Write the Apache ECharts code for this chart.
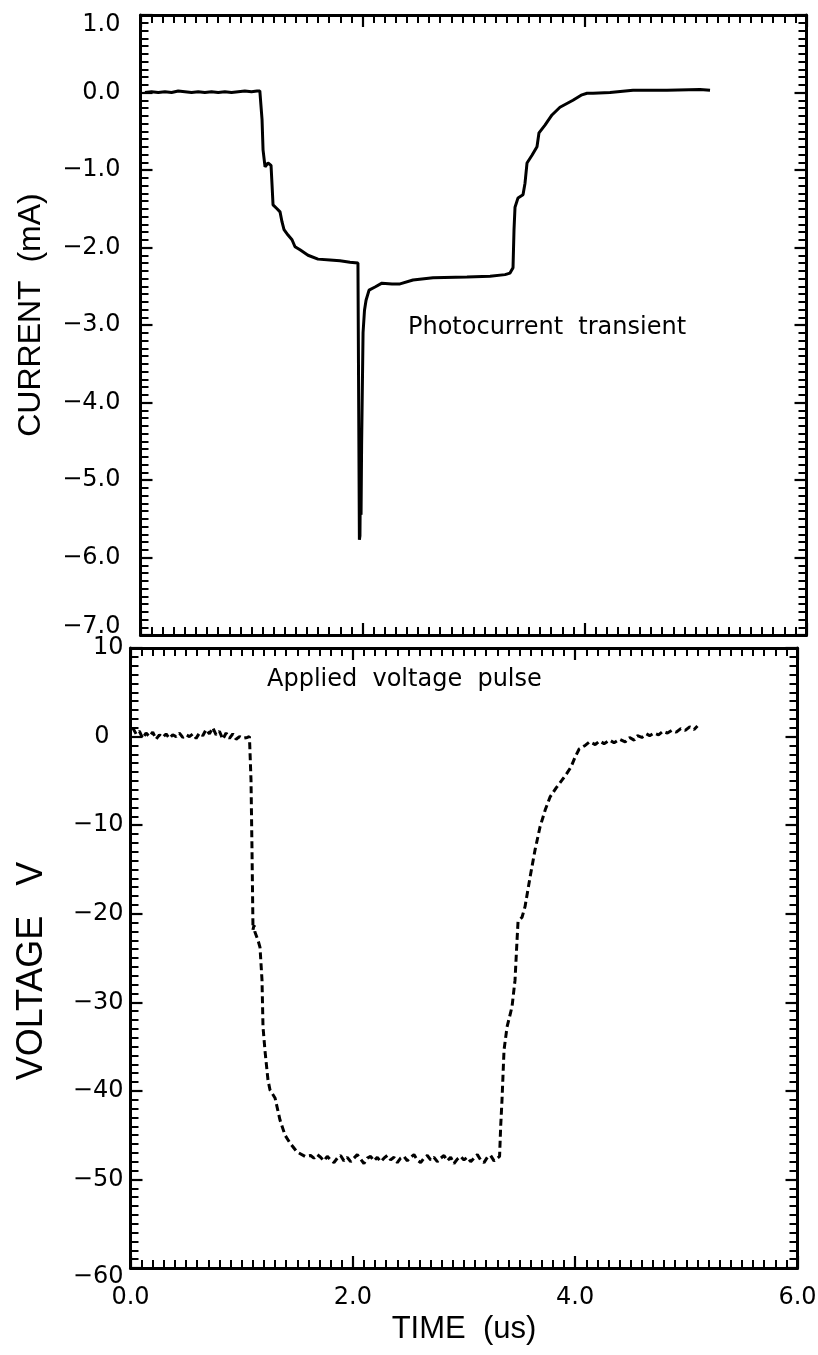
<!DOCTYPE html>
<html>
<head>
<meta charset="utf-8">
<script src="https://cdn.jsdelivr.net/npm/echarts@6/dist/echarts.min.js"></script>
<style>
  html, body { margin: 0; padding: 0; background: #fff; }
  #chart { width: 818px; height: 1355px; }
</style>
</head>
<body>
<div id="chart"></div>
<script>
// Photocurrent transient (mA) versus time (us)
const currentTime = [
  0.04, 0.10, 0.16, 0.22, 0.28, 0.34, 0.40, 0.46, 0.52, 0.58, 0.64, 0.70, 0.76, 0.82, 0.88, 0.94, 1.00, 1.05,
  1.075, 1.086, 1.095, 1.104, 1.122, 1.149, 1.176, 1.185, 1.194, 1.23, 1.257, 1.275, 1.293, 1.329, 1.365,
  1.392, 1.437, 1.509, 1.599, 1.707, 1.797, 1.887, 1.959, 1.968, 1.972, 1.977, 1.982, 1.987, 1.992, 2.005,
  2.018, 2.032, 2.059, 2.113, 2.175, 2.266, 2.338, 2.455, 2.635, 2.941, 3.149, 3.284, 3.329, 3.356, 3.365,
  3.374, 3.401, 3.446, 3.464, 3.482, 3.527, 3.572, 3.590, 3.644, 3.707, 3.779, 3.896, 3.977, 4.023, 4.077,
  4.23, 4.437, 4.743, 5.04, 5.131
];
const currentValues = [
  0.00, 0.01, 0.00, 0.01, 0.00, 0.02, 0.01, 0.00, 0.01, 0.00, 0.01, 0.00, 0.01, 0.00, 0.01, 0.02, 0.01, 0.02,
  0.02, 0.00, -0.35, -0.74, -0.96, -0.91, -0.94, -1.19, -1.45, -1.50, -1.54, -1.67, -1.77, -1.84, -1.90,
  -1.99, -2.03, -2.10, -2.15, -2.16, -2.17, -2.19, -2.20, -2.21, -5.77, -5.72, -4.85, -5.45, -4.55, -3.10,
  -2.81, -2.68, -2.55, -2.51, -2.46, -2.47, -2.47, -2.42, -2.39, -2.38, -2.37, -2.35, -2.33, -2.26, -1.77,
  -1.48, -1.36, -1.32, -1.17, -0.91, -0.81, -0.70, -0.52, -0.42, -0.29, -0.19, -0.10, -0.03, -0.01, -0.01,
  0.00, 0.03, 0.03, 0.04, 0.03
];

// Applied voltage pulse (V) versus time (us)
const voltageTime = [
  0.02, 0.05, 0.08, 0.11, 0.14, 0.17, 0.20, 0.23, 0.26, 0.29, 0.32, 0.35, 0.38, 0.41, 0.44, 0.47, 0.50, 0.53,
  0.56, 0.59, 0.62, 0.65, 0.68, 0.71, 0.74, 0.77, 0.80, 0.83, 0.86, 0.89, 0.92, 0.95, 0.98, 1.01, 1.05, 1.07,
  1.081, 1.084, 1.093, 1.102, 1.111, 1.120, 1.147, 1.165, 1.183, 1.192, 1.21, 1.237, 1.255, 1.30, 1.345,
  1.39, 1.435, 1.498, 1.57, 1.62,
  1.65, 1.68, 1.71, 1.74, 1.77, 1.80, 1.83, 1.86, 1.89, 1.92, 1.95, 1.98, 2.01, 2.04, 2.07, 2.10, 2.13, 2.16,
  2.19, 2.22, 2.25, 2.28, 2.31, 2.34, 2.37, 2.40, 2.43, 2.46, 2.49, 2.52, 2.55, 2.58, 2.61, 2.64, 2.67, 2.70,
  2.73, 2.76, 2.79, 2.82, 2.85, 2.88, 2.91, 2.94, 2.97, 3.00, 3.03, 3.06, 3.09, 3.12, 3.15, 3.18, 3.21, 3.24,
  3.27, 3.30, 3.32,
  3.33, 3.342, 3.36, 3.387, 3.432, 3.459, 3.477, 3.486, 3.522, 3.549, 3.594, 3.639, 3.684, 3.73, 3.775,
  3.829, 3.883, 3.928, 3.964, 4.00, 4.036, 4.09, 4.13, 4.18, 4.22, 4.26, 4.31, 4.35, 4.40, 4.45, 4.49, 4.53,
  4.56, 4.60, 4.64, 4.67, 4.71, 4.75, 4.79, 4.83, 4.87, 4.91, 4.95, 4.99, 5.03, 5.07, 5.10
];
const voltageValues = [
  1.0, 0.3, 0.6, -0.2, 0.4, 0.0, 0.5, -0.3, 0.2, -0.1, 0.3, -0.2, 0.2, 0.0, 0.4, -0.1, 0.2, 0.0,
  0.3, -0.2, 0.4, 0.1, 0.8, 0.3, 1.0, 0.2, 0.6, -0.3, 0.4, -0.2, 0.3, -0.3, 0.0, -0.2, -0.1, 0.0,
  0.0, -4.9, -12.8, -21.8, -21.3, -22.1, -23.0, -23.8, -27.5, -32.8, -35.5, -38.8, -39.9, -40.8, -43.3,
  -45.0, -45.9, -46.9, -47.4, -47.3,
  -47.6, -47.2, -47.5, -47.9, -47.4, -47.8, -48.1, -47.6, -47.3, -47.9, -47.5, -48.0, -47.6, -47.2, -47.7, -48.2, -47.6, -47.4,
  -47.9, -47.5, -48.0, -47.6, -47.3, -47.8, -47.5, -48.1, -47.6, -47.4, -47.9, -47.5, -47.2, -47.8, -48.1, -47.6, -47.3, -47.8,
  -47.5, -48.0, -47.6, -47.3, -47.9, -47.5, -48.2, -47.7, -47.4, -47.8, -47.5, -48.0, -47.6, -47.2, -47.8, -48.1, -47.5, -47.3,
  -47.9, -47.6, -47.4,
  -44.0, -41.0, -35.4, -32.8, -30.5, -27.5, -23.0, -20.9, -20.4, -19.2, -15.9, -12.8, -10.2, -8.3, -6.8,
  -5.8, -4.9, -4.1, -3.4, -2.3, -1.4, -1.0, -0.6, -0.9, -0.5, -0.8, -0.4, -0.7, -0.3, -0.6, -0.1, -0.4,
  0.1, -0.1, 0.3, 0.1, 0.4, 0.2, 0.6, 0.4, 0.7, 0.5, 0.9, 0.7, 1.1, 0.8, 1.2
];

// Axis ranges and tick spacing
const timeRange = { min: 0, max: 6, interval: 2, minor: 20 };
const currentRange = { min: -7, max: 1, interval: 1, minor: 10 };
const voltageRange = { min: -60, max: 10, interval: 10, minor: 10 };

const annotations = ['Photocurrent  transient', 'Applied  voltage  pulse'];
const axisTitles = { current: 'CURRENT  (mA)', voltage: 'VOLTAGE   V', time: 'TIME  (us)' };

const INK = '#000';
const TICK_FONT = 'DejaVu Sans';
const TITLE_FONT = 'Liberation Sans';
const TICK_SIZE = 24;

function pair(xs, ys) { return xs.map((x, i) => [x, ys[i]]); }
function signed(v, digits) {
  return (v < 0 ? '\u2212' : '') + Math.abs(v).toFixed(digits);
}
function richLabel(pad) {
  return { fontFamily: TICK_FONT, fontSize: TICK_SIZE, color: INK, padding: pad };
}

function frameAxis(gridIndex, position, range, extra) {
  return Object.assign({
    type: 'value',
    gridIndex: gridIndex,
    position: position,
    min: range.min,
    max: range.max,
    interval: range.interval,
    axisLine: { show: true, onZero: false, lineStyle: { color: INK, width: 3 } },
    axisTick: { show: true, inside: true, length: 12, lineStyle: { color: INK, width: 2.2 } },
    minorTick: { show: true, splitNumber: range.minor, length: 8, lineStyle: { color: INK, width: 2 } },
    splitLine: { show: false },
    minorSplitLine: { show: false },
    axisLabel: { show: false }
  }, extra || {});
}

const chart = echarts.init(document.getElementById('chart'), null, { renderer: 'canvas' });

chart.setOption({
  animation: false,
  backgroundColor: '#fff',
  grid: [
    { left: 140.5, top: 15, width: 666, height: 620, outerBoundsMode: 'none' },
    { left: 130.5, top: 648, width: 667, height: 620, outerBoundsMode: 'none' }
  ],
  xAxis: [
    frameAxis(0, 'bottom', timeRange),
    frameAxis(0, 'top', timeRange),
    frameAxis(1, 'bottom', timeRange, {
      axisLabel: {
        show: true, margin: 18, color: INK, fontFamily: TICK_FONT, fontSize: TICK_SIZE,
        formatter: v => v.toFixed(1)
      },
      name: axisTitles.time,
      nameLocation: 'middle',
      nameGap: 46,
      nameMoveOverlap: false,
      nameTextStyle: { color: INK, fontFamily: TITLE_FONT, fontSize: 31 }
    }),
    frameAxis(1, 'top', timeRange)
  ],
  yAxis: [
    frameAxis(0, 'left', currentRange, {
      axisLabel: {
        show: true, margin: 20, color: INK, fontFamily: TICK_FONT, fontSize: TICK_SIZE,
        formatter: v => {
          const s = signed(v, 1);
          if (v === currentRange.max) return '{hi|' + s + '}';
          if (v === currentRange.min) return '{lo|' + s + '}';
          return s;
        },
        rich: { hi: richLabel([20, 0, 0, 0]), lo: richLabel([0, 0, 16, 0]) }
      },
      name: axisTitles.current,
      nameLocation: 'middle',
      nameRotate: 90,
      nameGap: 93,
      nameMoveOverlap: false,
      nameTextStyle: { color: INK, fontFamily: TITLE_FONT, fontSize: 32, padding: [0, 0, 0, 20] }
    }),
    frameAxis(0, 'right', currentRange),
    frameAxis(1, 'left', voltageRange, {
      axisLabel: {
        show: true, margin: 7, color: INK, fontFamily: TICK_FONT, fontSize: TICK_SIZE,
        formatter: v => {
          const s = signed(v, 0);
          if (v === voltageRange.min) return '{lo|' + s + '}';
          if (v === 0) return '{z|' + s + '}';
          return s;
        },
        rich: { lo: richLabel([18, 0, 0, 0]), z: richLabel([0, 14, 0, 0]) }
      },
      name: axisTitles.voltage,
      nameLocation: 'middle',
      nameRotate: 90,
      nameGap: 80,
      nameMoveOverlap: false,
      nameTextStyle: { color: INK, fontFamily: TITLE_FONT, fontSize: 36, padding: [0, 26, 0, 0] }
    }),
    frameAxis(1, 'right', voltageRange)
  ],
  series: [
    {
      type: 'line',
      xAxisIndex: 0,
      yAxisIndex: 0,
      data: pair(currentTime, currentValues),
      showSymbol: false,
      lineStyle: { color: INK, width: 3 }
    },
    {
      type: 'line',
      xAxisIndex: 2,
      yAxisIndex: 2,
      data: pair(voltageTime, voltageValues),
      showSymbol: false,
      lineStyle: { color: INK, width: 3, type: [7, 4] }
    }
  ],
  graphic: [
    {
      type: 'text', left: 408, top: 316,
      style: { text: annotations[0], fill: INK, font: '24px "DejaVu Sans"' }
    },
    {
      type: 'text', left: 267, top: 668,
      style: { text: annotations[1], fill: INK, font: '24px "DejaVu Sans"' }
    }
  ]
});
</script>
</body>
</html>
